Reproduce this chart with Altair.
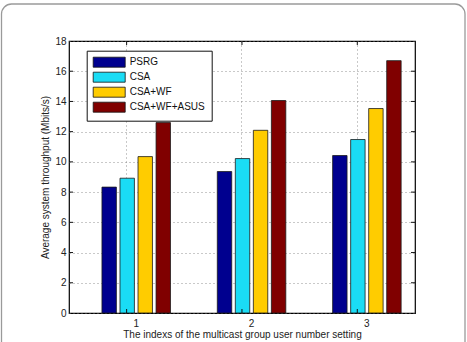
import altair as alt
import pandas as pd

groups = ["1", "2", "3"]
series = ["PSRG", "CSA", "CSA+WF", "CSA+WF+ASUS"]
psrg = [8.33, 9.36, 10.42]
csa = [8.92, 10.22, 11.48]
csa_wf = [10.35, 12.09, 13.53]
csa_wf_asus = [12.60, 14.06, 16.70]
colors = ["#00008F", "#1ADCF5", "#FFCC00", "#800000"]
y_ticks = [0, 2, 4, 6, 8, 10, 12, 14, 16, 18]

rows = []
for name, vals in zip(series, [psrg, csa, csa_wf, csa_wf_asus]):
    for g, v in zip(groups, vals):
        rows.append({"group": g, "series": name, "value": v})
df = pd.DataFrame(rows)
ytick_df = pd.DataFrame({"value": y_ticks[1:-1]})
xtick_df = pd.DataFrame({"group": groups})

FONT = "Liberation Sans"
W, H = 346, 272
TL = 4

frame = alt.Chart(pd.DataFrame({"a": [0]})).mark_rect(
    filled=False, stroke="#9a9a9a", strokeWidth=1.3, cornerRadius=10
).encode(
    x=alt.value(-67.5), x2=alt.value(396), y=alt.value(-37), y2=alt.value(360)
)

x_axis = alt.Axis(
    title="The indexs of the multicast group user number setting",
    labelAngle=0, bandPosition=0.36, grid=True, gridDash=[1, 3],
    gridColor="#777777", gridWidth=0.8, ticks=False, domain=False,
    labelPadding=5, titlePadding=1, labelFontSize=10, titleFontSize=10,
    titleFontWeight="normal", labelColor="#222", titleColor="#222",
)
x_scale = alt.Scale(paddingInner=0.406, paddingOuter=0.203, align=0.704)
y_axis = alt.Axis(
    title="Average system throughput (Mbits/s)", values=y_ticks,
    grid=True, gridDash=[1, 3], gridColor="#777777", gridWidth=0.8,
    ticks=False, domain=False, labelPadding=3, titlePadding=4,
    labelFontSize=10, titleFontSize=10, titleFontWeight="normal",
    labelColor="#222", titleColor="#222",
)
y_scale = alt.Scale(domain=[0, 18], nice=False)

bars = alt.Chart(df).mark_bar(stroke="#1a1a1a", strokeWidth=0.8).encode(
    x=alt.X("group:N", sort=groups, scale=x_scale, axis=x_axis),
    xOffset=alt.XOffset(
        "series:N", sort=series,
        scale=alt.Scale(paddingInner=0.2, paddingOuter=0),
    ),
    y=alt.Y("value:Q", scale=y_scale, axis=y_axis),
    color=alt.Color(
        "series:N", sort=series,
        scale=alt.Scale(domain=series, range=colors),
        legend=alt.Legend(
            title=None, orient="none", legendX=17.7, legendY=9.7,
            symbolType="M-1,-1H5.4V1H-1Z", symbolSize=100,
            symbolStrokeColor="#111", symbolStrokeWidth=0.8, symbolOpacity=1,
            labelOffset=26, labelFontSize=10, labelFont=FONT, labelColor="#111",
            strokeColor="#111", fillColor="white", padding=6, rowPadding=0,
        ),
    ),
)

def ytick(x0, x1):
    return alt.Chart(ytick_df).mark_rule(color="#111", strokeWidth=1).encode(
        y=alt.Y("value:Q", scale=y_scale, axis=y_axis),
        x=alt.value(x0), x2=alt.value(x1))

def xtick(y0, y1):
    return alt.Chart(xtick_df).mark_rule(color="#111", strokeWidth=1).encode(
        x=alt.X("group:N", sort=groups, scale=x_scale, axis=x_axis,
                bandPosition=0.36),
        y=alt.value(y0), y2=alt.value(y1))

chart = alt.layer(
    frame, bars, ytick(0, TL), ytick(W - TL, W), xtick(0, TL), xtick(H - TL, H)
).properties(
    width=W, height=H,
    autosize=alt.AutoSizeParams(type="none"),
    padding={"left": 69, "top": 41, "right": 52, "bottom": 29},
).configure(font=FONT).configure_view(stroke="#000000", strokeWidth=1.2)

chart.save("out.html", embed_options={"renderer": "svg", "actions": False})
